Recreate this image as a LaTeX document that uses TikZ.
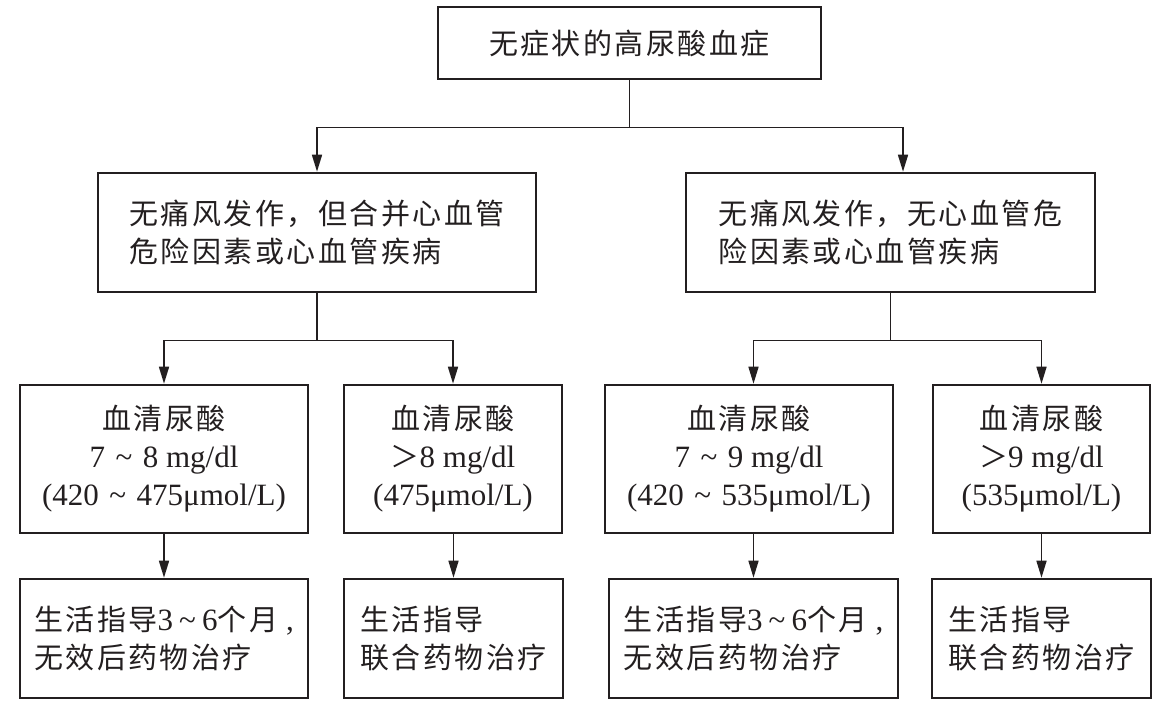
\documentclass[tikz,border=0pt]{standalone}
\usepackage{fontspec}
\setmainfont{Liberation Serif}
\newfontfamily\cjk[LetterSpace=8.6]{Noto Sans CJK SC}
\usetikzlibrary{arrows.meta,calc}
\definecolor{ink}{RGB}{35,31,32}
\newcommand\zh[1]{{\fontsize{29}{38}\selectfont\cjk #1}}
\newcommand\tildeA{\hspace{0.34em}\textasciitilde\hspace{0.34em}}
\newcommand\tildeB{\hspace{0.2em}\textasciitilde\hspace{0.2em}}
\begin{document}
\begin{tikzpicture}[x=1pt,y=-1pt,
  box/.style={draw=ink,line width=2.6pt,rectangle,inner sep=0pt,
    font=\fontsize{31}{38}\selectfont,text=ink},
  conn/.style={draw=ink,line width=1.6pt},
  arr/.style={conn,-{Triangle[length=17pt,width=10pt]}}]
\useasboundingbox (0,0) rectangle (1174,709);
\fill[white] (0,0) rectangle (1174,709);

% top
\node[box,minimum width=383pt,minimum height=72pt] (top) at (629.5,43)
  {\zh{无症状的高尿酸血症}};

% second row
\node[box,align=left,minimum width=438pt,minimum height=119pt] (L2) at (317,232.5)
  {\zh{无痛风发作，但合并心血管}\\\zh{危险因素或心血管疾病}};
\node[box,align=left,minimum width=409pt,minimum height=119pt] (R2) at (890.5,232.5)
  {\zh{无痛风发作，无心血管危}\\\zh{险因素或心血管疾病}};

% third row
\node[box,align=center,minimum width=288pt,minimum height=148pt] (a3) at (164,459)
  {\zh{血清尿酸}\\7\tildeA8 mg/dl\\(420\tildeA475μmol/L)};
\node[box,align=center,minimum width=218pt,minimum height=148pt] (b3) at (453,459)
  {\zh{血清尿酸}\\\zh{＞}8 mg/dl\\(475μmol/L)};
\node[box,align=center,minimum width=288pt,minimum height=148pt] (c3) at (749,459)
  {\zh{血清尿酸}\\7\tildeA9 mg/dl\\(420\tildeA535μmol/L)};
\node[box,align=center,minimum width=217pt,minimum height=148pt] (d3) at (1041.5,459)
  {\zh{血清尿酸}\\\zh{＞}9 mg/dl\\(535μmol/L)};

% fourth row
\node[box,align=left,minimum width=288pt,minimum height=119pt] (a4) at (164,638.5)
  {\zh{生活指导}3\tildeB6\zh{个月}\hspace{8pt},\\\zh{无效后药物治疗}};
\node[box,align=left,minimum width=219pt,minimum height=119pt] (b4) at (453.5,638.5)
  {\zh{生活指导}\\\zh{联合药物治疗}};
\node[box,align=left,minimum width=289pt,minimum height=119pt] (c4) at (753.5,638.5)
  {\zh{生活指导}3\tildeB6\zh{个月}\hspace{8pt},\\\zh{无效后药物治疗}};
\node[box,align=left,minimum width=219pt,minimum height=119pt] (d4) at (1041.5,638.5)
  {\zh{生活指导}\\\zh{联合药物治疗}};

% connectors
\coordinate (j0) at ($(top.south)+(0,47)$);
\draw[conn] (top.south) -- (j0);
\draw[arr] (j0) -| (L2.north);
\draw[arr] (j0) -| ([xshift=12.5pt]R2.north);

\coordinate (j1) at ($(L2.south)+(0,47)$);
\draw[conn] (L2.south) -- (j1);
\draw[arr] (j1) -| (a3.north);
\draw[arr] (j1) -| (b3.north);

\coordinate (j2) at ($(R2.south)+(0,47)$);
\draw[conn] (R2.south) -- (j2);
\draw[arr] (j2) -| (c4 |- c3.north);
\draw[arr] (j2) -| (d3.north);

\draw[arr] (a3.south) -- (a4.north);
\draw[arr] (b3.south -| b4.north) -- (b4.north);
\draw[arr] (c3.south -| c4.north) -- (c4.north);
\draw[arr] (d3.south) -- (d4.north);
\end{tikzpicture}
\end{document}
